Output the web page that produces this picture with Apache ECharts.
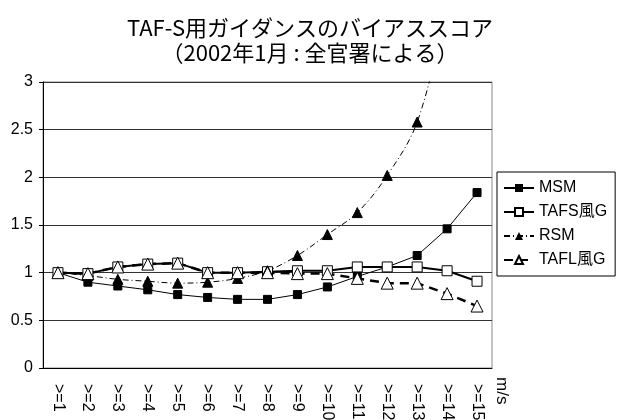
<!DOCTYPE html>
<html>
<head>
<meta charset="utf-8">
<script src="https://cdn.jsdelivr.net/npm/echarts@6/dist/echarts.min.js"></script>
<style>html,body{margin:0;padding:0;background:#fff;}#c{width:620px;height:420px;}</style>
</head>
<body>
<div id="c"></div>
<script>
var categories = ['>=1','>=2','>=3','>=4','>=5','>=6','>=7','>=8','>=9','>=10','>=11','>=12','>=13','>=14','>=15'];
var msm  = [1.00,0.90,0.86,0.82,0.77,0.74,0.72,0.72,0.77,0.85,0.96,1.06,1.18,1.46,1.84];
var tafs = [1.00,0.99,1.06,1.09,1.10,1.00,1.00,1.01,1.02,1.02,1.06,1.06,1.06,1.02,0.91];
var rsm  = [1.00,0.97,0.93,0.91,0.89,0.90,0.94,1.02,1.18,1.40,1.63,2.02,2.58,3.80,5.20];
var tafl = [1.00,0.99,1.06,1.09,1.10,1.00,1.00,1.00,0.99,0.99,0.94,0.89,0.89,0.78,0.65];
var yTicks = {min: 0, max: 3, interval: 0.5};
var titleText = 'TAF-S用ガイダンスのバイアススコア\n（2002年1月 : 全官署による）';
var seriesNames = ['MSM','TAFS風G','RSM','TAFL風G'];
var unitLabel = 'm/s';

var FONT = "'Liberation Sans', 'Noto Sans CJK JP', sans-serif";
var chart = echarts.init(document.getElementById('c'), null, {renderer: 'canvas'});
chart.setOption({
  backgroundColor: '#fff',
  animation: false,
  textStyle: {fontFamily: FONT, color: '#000'},
  title: {
    text: titleText,
    left: 'center',
    top: 10,
    textStyle: {fontFamily: "'Noto Sans CJK JP', sans-serif", fontSize: 22, fontWeight: 'normal', color: '#000', lineHeight: 25}
  },
  legend: {
    left: 497, top: 172,
    orient: 'vertical',
    backgroundColor: '#fff',
    borderColor: '#000', borderWidth: 1,
    padding: [8, 8, 8, 6],
    itemWidth: 30, itemHeight: 10, itemGap: 8,
    textStyle: {fontFamily: FONT, fontSize: 16, color: '#000'},
    data: seriesNames
  },
  grid: {
    left: 43, right: 128, top: 82, bottom: 52,
    show: true, borderColor: '#888', borderWidth: 1,
    containLabel: false, outerBoundsMode: 'none'
  },
  xAxis: {
    type: 'category',
    data: categories,
    boundaryGap: true,
    axisLine: {lineStyle: {color: '#000', width: 1}},
    axisTick: {inside: true, length: 5, lineStyle: {color: '#000'}},
    axisLabel: {rotate: -90, fontSize: 16, color: '#000', margin: 16, interval: 0, fontFamily: FONT},
    splitLine: {show: false}
  },
  yAxis: {
    type: 'value',
    min: yTicks.min, max: yTicks.max, interval: yTicks.interval,
    axisLine: {show: true, lineStyle: {color: '#000', width: 1}},
    axisTick: {show: true, length: 4, lineStyle: {color: '#000'}},
    axisLabel: {fontSize: 16, color: '#000', margin: 10, fontFamily: FONT},
    splitLine: {lineStyle: {color: '#333', width: 1}}
  },
  graphic: [{
    type: 'text', x: 510, y: 377, rotation: -Math.PI / 2,
    style: {text: unitLabel, font: '17px ' + FONT, fill: '#000'}
  }],
  series: [
    {name: seriesNames[0], type: 'line', data: msm, symbol: 'rect', symbolSize: 8,
      itemStyle: {color: '#000', borderColor: '#000'}, lineStyle: {color: '#000', width: 1}},
    {name: seriesNames[1], type: 'line', data: tafs, symbol: 'rect', symbolSize: 10,
      itemStyle: {color: '#fff', borderColor: '#000', borderWidth: 1}, lineStyle: {color: '#000', width: 2}},
    {name: seriesNames[2], type: 'line', data: rsm, symbol: 'triangle', symbolSize: 10, smooth: 0.35,
      itemStyle: {color: '#000', borderColor: '#000'}, lineStyle: {color: '#000', width: 1, type: [6, 3, 1, 3]}},
    {name: seriesNames[3], type: 'line', data: tafl, symbol: 'triangle', symbolSize: 12,
      itemStyle: {color: '#fff', borderColor: '#000', borderWidth: 1}, lineStyle: {color: '#000', width: 2.5, type: [9, 6]}}
  ]
});
</script>
</body>
</html>
